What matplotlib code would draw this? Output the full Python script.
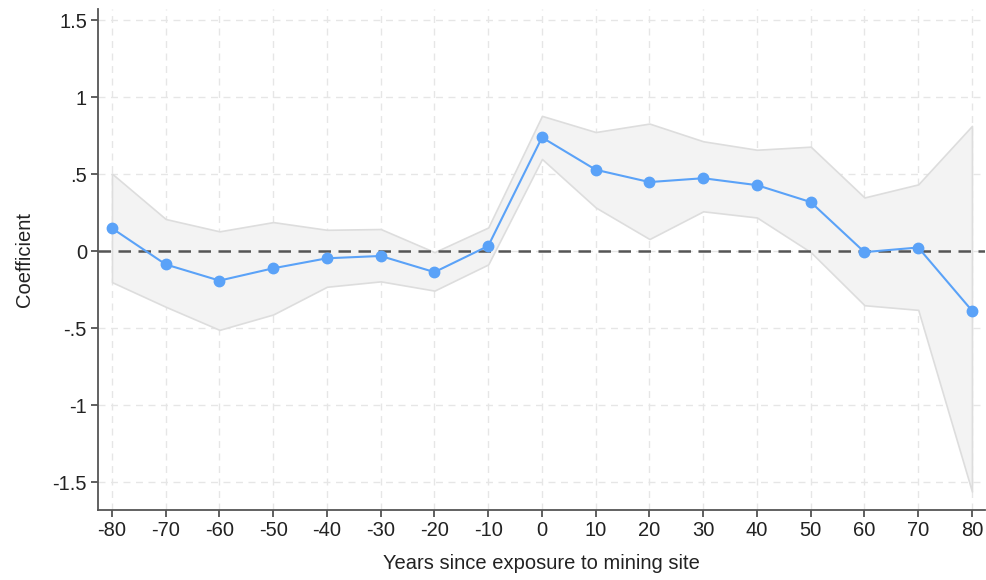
import matplotlib
matplotlib.use("Agg")
import matplotlib.pyplot as plt

years = [-80, -70, -60, -50, -40, -30, -20, -10, 0, 10, 20, 30, 40, 50, 60, 70, 80]
coef = [0.15, -0.085, -0.19, -0.11, -0.045, -0.03, -0.135, 0.035, 0.74, 0.53, 0.45, 0.475, 0.43, 0.32, -0.005, 0.025, -0.385]
ci_upper = [0.505, 0.21, 0.13, 0.19, 0.14, 0.145, -0.005, 0.155, 0.88, 0.775, 0.83, 0.715, 0.66, 0.68, 0.35, 0.435, 0.815]
ci_lower = [-0.20, -0.36, -0.51, -0.41, -0.23, -0.195, -0.255, -0.085, 0.60, 0.285, 0.08, 0.26, 0.22, -0.005, -0.35, -0.38, -1.56]
yticks = [1.5, 1, 0.5, 0, -0.5, -1, -1.5]
ytick_labels = ["1.5", "1", ".5", "0", "-.5", "-1", "-1.5"]
xlabel = "Years since exposure to mining site"
ylabel = "Coefficient"

plt.rcParams['font.family'] = ['Liberation Sans', 'DejaVu Sans']
fig = plt.figure(figsize=(9.86, 5.80), dpi=100)
ax = fig.add_axes([0.0994, 0.1207, 0.9, 0.864])

ax.fill_between(years, ci_lower, ci_upper, facecolor="#f3f3f3", edgecolor="#dddddd", linewidth=1.2, zorder=1)
ax.axhline(0, color="#555555", linestyle=(0, (5, 3)), linewidth=1.8, zorder=2)
ax.plot(years, coef, color="#5aa2f8", linewidth=1.5, marker="o", markersize=7.5, zorder=3, clip_on=False)

ax.set_xlim(-82.6, 82.5)
ax.set_ylim(-1.68, 1.575)
ax.set_xticks(years)
ax.set_xticklabels([str(y) for y in years])
ax.set_yticks(yticks)
ax.set_yticklabels(ytick_labels)

ax.grid(True, color="#e6e6e6", linestyle=(0, (5, 4)), linewidth=1.0, zorder=0)
ax.set_axisbelow(True)
for s in ["top", "right"]:
    ax.spines[s].set_visible(False)
for s in ["left", "bottom"]:
    ax.spines[s].set_color("#555555")
    ax.spines[s].set_linewidth(1.3)
ax.tick_params(axis="both", direction="out", length=5, width=1.2, color="#444444", labelsize=14.5, labelcolor="#222222", pad=3)

ax.set_xlabel(xlabel, fontsize=14.5, color="#222222", labelpad=10)
ax.set_ylabel(ylabel, fontsize=14.5, color="#222222", labelpad=13)

fig.savefig("out.png", dpi=100)
